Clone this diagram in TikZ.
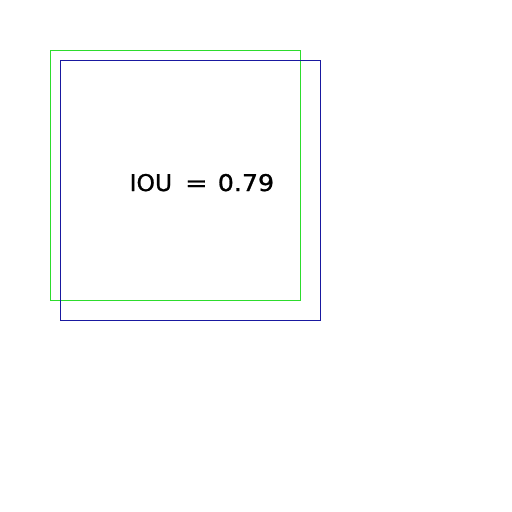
\documentclass[tikz,border=0pt]{standalone}
\usepackage{fontspec}
\newfontfamily\lblfont{DejaVu Sans}[FakeBold=1]
\definecolor{boxgreen}{RGB}{45,220,45}
\definecolor{boxblue}{RGB}{25,25,160}
\begin{document}
\begin{tikzpicture}[x=1pt,y=-1pt,
  boxline/.style={line width=1pt},
  lbl/.style={inner sep=0pt, anchor=base west, font=\lblfont\fontsize{23}{24}\selectfont}]
\useasboundingbox (0,0) rectangle (512,512);
\draw[boxline,boxgreen] (50.5,50.5) rectangle (300.5,300.5);
\draw[boxline,boxblue] (60.5,60.5) rectangle (320.5,320.5);
\node[lbl] (iou) at (129.4,191) {\scalebox{1.02}[1]{IOU}};
\node[lbl] (eq) at (184.9,191) {\scalebox{1.17}[1]{=}};
\node[lbl] (val) at (217.6,191) {\scalebox{1.1}[1]{0.79}};
\end{tikzpicture}
\end{document}
